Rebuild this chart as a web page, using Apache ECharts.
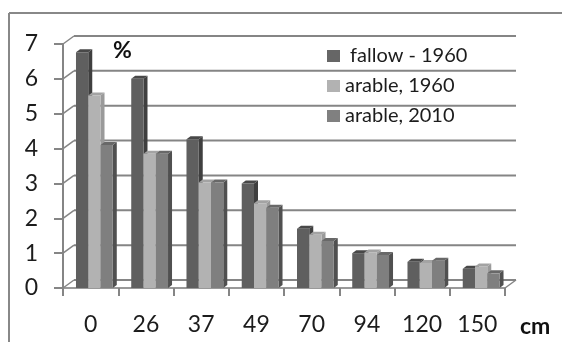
<!DOCTYPE html>
<html>
<head>
<meta charset="utf-8">
<style>
html, body { margin: 0; padding: 0; background: #fff; }
#chart { width: 563px; height: 342px; }
</style>
</head>
<body>
<div id="chart"></div>
<script src="https://cdn.jsdelivr.net/npm/echarts@6/dist/echarts.min.js"></script>
<script>
const depths = ['0', '26', '37', '49', '70', '94', '120', '150'];
const yTicks = [0, 1, 2, 3, 4, 5, 6, 7];
const fallow1960 = [6.76, 6.0, 4.27, 3.0, 1.7, 1.0, 0.75, 0.55];
const arable1960 = [5.52, 3.85, 3.03, 2.43, 1.53, 1.02, 0.72, 0.62];
const arable2010 = [4.1, 3.85, 3.03, 2.3, 1.35, 0.95, 0.78, 0.42];

const barColors = [
  { front: '#5f5f5f', side: '#3f3f3f', top: '#484848', legend: '#666666' },
  { front: '#b2b2b2', side: '#9a9a9a', top: '#a3a3a3', legend: '#b2b2b2' },
  { front: '#7f7f7f', side: '#505050', top: '#686868', legend: '#808080' }
];
const wallDx = 11;
const wallDy = -8;
const gridColor = '#858585';
const labelFont = 'Lato, "Open Sans", sans-serif';

function renderBar(seriesIdx) {
  return function (params, api) {
    const base = api.coord([api.value(0), 0]);
    const top = api.coord([api.value(0), api.value(1)]);
    const band = api.size([1, 0])[0];
    const w = band * 0.222;
    const x0 = base[0] - band * 0.265 + seriesIdx * w;
    const x1 = x0 + w;
    const c = barColors[seriesIdx];
    const dx = 4, dy = -3;
    return {
      type: 'group',
      children: [
        { type: 'polygon', shape: { points: [[x1, top[1]], [x1 + dx, top[1] + dy], [x1 + dx, base[1] + dy], [x1, base[1]]] }, style: { fill: c.side } },
        { type: 'polygon', shape: { points: [[x0, top[1]], [x0 + dx, top[1] + dy], [x1 + dx, top[1] + dy], [x1, top[1]]] }, style: { fill: c.top } },
        { type: 'rect', shape: { x: x0, y: top[1], width: w, height: base[1] - top[1] }, style: { fill: c.front } }
      ]
    };
  };
}

function renderWall(params, api) {
  const p = api.coord([0, api.value(0)]);
  const left = params.coordSys.x;
  const right = left + params.coordSys.width;
  const y = p[1];
  const children = [
    { type: 'line', shape: { x1: left, y1: y, x2: left + wallDx, y2: y + wallDy }, style: { stroke: gridColor, lineWidth: 1.5 } },
    { type: 'line', shape: { x1: left + wallDx, y1: y + wallDy, x2: right + wallDx, y2: y + wallDy }, style: { stroke: gridColor, lineWidth: 2 } }
  ];
  if (api.value(0) === 0) {
    children.push({ type: 'line', shape: { x1: right, y1: y, x2: right + wallDx, y2: y + wallDy }, style: { stroke: gridColor, lineWidth: 1.5 } });
  }
  return { type: 'group', children: children };
}

function barSeries(name, values, idx) {
  return {
    name: name,
    type: 'custom',
    renderItem: renderBar(idx),
    itemStyle: { color: barColors[idx].legend },
    encode: { x: 0, y: 1 },
    data: values.map((v, i) => [i, v]),
    z: 3 + idx
  };
}

const chart = echarts.init(document.getElementById('chart'), null, { renderer: 'canvas' });
chart.setOption({
  animation: false,
  backgroundColor: '#fff',
  grid: { left: 63, right: 58, top: 44, bottom: 54 },
  legend: {
    data: ['fallow - 1960', 'arable, 1960', 'arable, 2010'],
    orient: 'vertical',
    left: 322,
    top: 41,
    itemWidth: 13,
    itemHeight: 12,
    itemGap: 10,
    icon: 'rect',
    formatter: name => (name === 'fallow - 1960' ? ' ' + name : name),
    textStyle: { fontFamily: labelFont, fontSize: 20, color: '#1c1c1c' }
  },
  xAxis: {
    type: 'category',
    data: depths,
    axisLine: { lineStyle: { color: '#999', width: 2 } },
    axisTick: { show: true, length: 8, lineStyle: { color: gridColor, width: 2 } },
    axisLabel: { interval: 0, margin: 25, fontFamily: labelFont, fontSize: 23, color: '#1c1c1c' }
  },
  yAxis: {
    type: 'value',
    min: 0,
    max: 7,
    interval: 1,
    splitLine: { show: false },
    axisLine: { show: true, lineStyle: { color: gridColor, width: 2 } },
    axisTick: { show: true, length: 9, lineStyle: { color: gridColor, width: 2 } },
    axisLabel: { margin: 25, fontFamily: labelFont, fontSize: 23, color: '#1c1c1c' }
  },
  graphic: [
    { type: 'line', shape: { x1: 9, y1: 13, x2: 9, y2: 342 }, style: { stroke: '#888', lineWidth: 2 } },
    { type: 'line', shape: { x1: 9, y1: 13, x2: 562, y2: 13 }, style: { stroke: '#888', lineWidth: 2 } },
    { type: 'text', left: 113, top: 39, style: { text: '%', fontFamily: labelFont, fontSize: 23, fontWeight: 'bold', fill: '#111' } },
    { type: 'text', left: 520, top: 315, style: { text: 'cm', fontFamily: labelFont, fontSize: 23, fontWeight: 'bold', fill: '#111' } }
  ],
  series: [
    {
      type: 'custom',
      renderItem: renderWall,
      encode: { y: 0 },
      data: yTicks.map(t => [t]),
      silent: true,
      z: 1
    },
    barSeries('fallow - 1960', fallow1960, 0),
    barSeries('arable, 1960', arable1960, 1),
    barSeries('arable, 2010', arable2010, 2)
  ]
});
</script>
</body>
</html>
